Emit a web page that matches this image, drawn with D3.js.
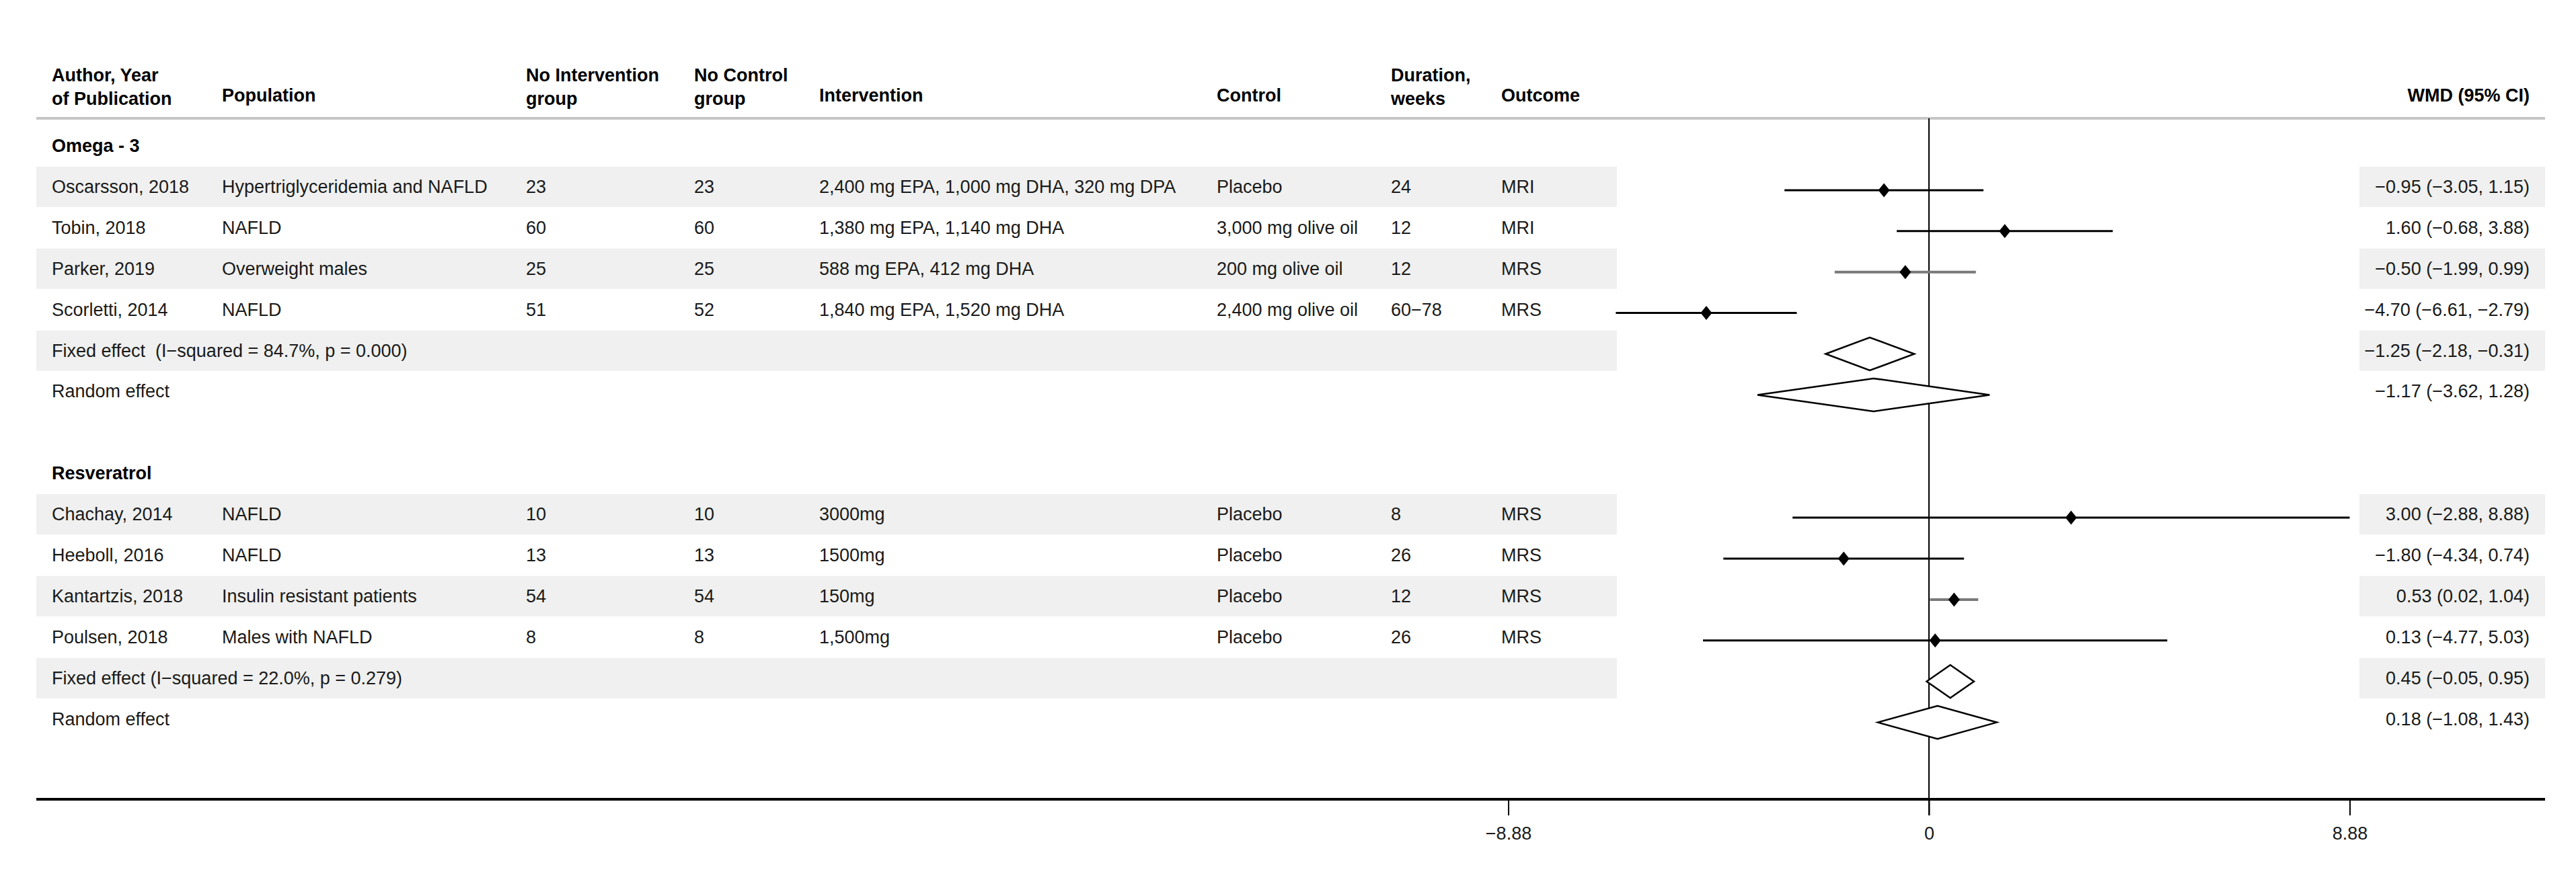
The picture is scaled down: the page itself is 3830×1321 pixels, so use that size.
<!DOCTYPE html>
<html>
<head>
<meta charset="utf-8">
<script src="https://cdn.jsdelivr.net/npm/d3@7"></script>
<style>
  html, body { margin: 0; padding: 0; background: #fff; }
  svg { display: block; font-family: "Liberation Sans", Arial, sans-serif; }
  text { white-space: pre; }
</style>
</head>
<body>
<svg id="chart" width="3830" height="1321"></svg>
<script>
// data
const groups = ["Omega - 3", "Resveratrol"];
const studies = ["Oscarsson, 2018", "Tobin, 2018", "Parker, 2019", "Scorletti, 2014",
                 "Chachay, 2014", "Heeboll, 2016", "Kantartzis, 2018", "Poulsen, 2018"];
const studyGroup = [0, 0, 0, 0, 1, 1, 1, 1];
const populations = ["Hypertriglyceridemia and NAFLD", "NAFLD", "Overweight males", "NAFLD",
                     "NAFLD", "NAFLD", "Insulin resistant patients", "Males with NAFLD"];
const nIntervention = [23, 60, 25, 51, 10, 13, 54, 8];
const nControl = [23, 60, 25, 52, 10, 13, 54, 8];
const interventions = ["2,400 mg EPA, 1,000 mg DHA, 320 mg DPA", "1,380 mg EPA, 1,140 mg DHA",
                       "588 mg EPA, 412 mg DHA", "1,840 mg EPA, 1,520 mg DHA",
                       "3000mg", "1500mg", "150mg", "1,500mg"];
const controls = ["Placebo", "3,000 mg olive oil", "200 mg olive oil", "2,400 mg olive oil",
                  "Placebo", "Placebo", "Placebo", "Placebo"];
const durations = ["24", "12", "12", "60\u221278", "8", "26", "12", "26"];
const outcomes = ["MRI", "MRI", "MRS", "MRS", "MRS", "MRS", "MRS", "MRS"];
const wmd = [-0.95, 1.60, -0.50, -4.70, 3.00, -1.80, 0.53, 0.13];
const ciLow = [-3.05, -0.68, -1.99, -6.61, -2.88, -4.34, 0.02, -4.77];
const ciHigh = [1.15, 3.88, 0.99, -2.79, 8.88, 0.74, 1.04, 5.03];

// pooled estimates, per group: fixed then random
const pooledLabels = [["Fixed effect  (I\u2212squared = 84.7%, p = 0.000)", "Random effect"],
                      ["Fixed effect (I\u2212squared = 22.0%, p = 0.279)", "Random effect"]];
const pooledEst = [[-1.25, -1.17], [0.45, 0.18]];
const pooledLow = [[-2.18, -3.62], [-0.05, -1.08]];
const pooledHigh = [[-0.31, 1.28], [0.95, 1.43]];

const tickValues = [-8.88, 0, 8.88];

const headers = [
  {x: 77, lines: ["Author, Year", "of Publication"]},
  {x: 330, lines: ["Population"]},
  {x: 782, lines: ["No Intervention", "group"]},
  {x: 1032, lines: ["No Control", "group"]},
  {x: 1218, lines: ["Intervention"]},
  {x: 1809, lines: ["Control"]},
  {x: 2068, lines: ["Duration,", "weeks"]},
  {x: 2232, lines: ["Outcome"]}
];

// build the row list
const rows = [];
groups.forEach(function (g, gi) {
  rows.push({type: "group", label: g});
  studyGroup.forEach(function (sg, i) {
    if (sg !== gi) return;
    rows.push({type: "study", cells: [studies[i], populations[i], nIntervention[i], nControl[i],
               interventions[i], controls[i], durations[i], outcomes[i]],
               est: wmd[i], lo: ciLow[i], hi: ciHigh[i]});
  });
  pooledLabels[gi].forEach(function (lab, k) {
    rows.push({type: "pooled", label: lab, est: pooledEst[gi][k], lo: pooledLow[gi][k], hi: pooledHigh[gi][k]});
  });
  if (gi < groups.length - 1) rows.push({type: "blank"});
});

const fmt = function (v) { return d3.format(".2f")(v).replace("-", "\u2212"); };
const ciText = function (r) { return fmt(r.est) + " (" + fmt(r.lo) + ", " + fmt(r.hi) + ")"; };

const svg = d3.select("#chart");
const fontSize = 27;
const left = 54, right = 3784;

const x = d3.scaleLinear().domain([-8.88, 8.88]).range([2242.5, 3493.5]);
const y = d3.scaleLinear().domain([0, rows.length - 1]).range([222, 222 + (rows.length - 1) * 60.9]);

// zebra bands (alternate inside each group)
let shade = [];
let k = 0;
rows.forEach(function (r, i) {
  if (r.type === "group" || r.type === "blank") { k = 0; return; }
  if (k % 2 === 0) shade.push(i);
  k++;
});
const bands = svg.append("g");
shade.forEach(function (i) {
  bands.append("rect").attr("x", left).attr("y", y(i) - 35).attr("width", 2404 - left).attr("height", 60).attr("fill", "#eff0ef");
  bands.append("rect").attr("x", 3508).attr("y", y(i) - 35).attr("width", right - 3508).attr("height", 60).attr("fill", "#eff0ef");
});

// header
const hd = svg.append("g").attr("font-size", fontSize).attr("font-weight", "bold").attr("fill", "#000");
headers.forEach(function (h) {
  if (h.lines.length === 2) {
    hd.append("text").attr("x", h.x).attr("y", 121).text(h.lines[0]);
    hd.append("text").attr("x", h.x).attr("y", 156).text(h.lines[1]);
  } else {
    hd.append("text").attr("x", h.x).attr("y", 151).text(h.lines[0]);
  }
});
hd.append("text").attr("x", 3761).attr("y", 151).attr("text-anchor", "end").text("WMD (95% CI)");

svg.append("line").attr("x1", left).attr("x2", right).attr("y1", 176).attr("y2", 176)
  .attr("stroke", "#c6c6c6").attr("stroke-width", 4);

// table text
const colX = headers.map(function (h) { return h.x; });
const body = svg.append("g").attr("font-size", fontSize).attr("fill", "#1a1a1a");
rows.forEach(function (r, i) {
  const ty = y(i) + 4;
  if (r.type === "group") {
    body.append("text").attr("x", colX[0]).attr("y", ty).attr("font-weight", "bold").attr("fill", "#000").text(r.label);
  } else if (r.type === "study") {
    r.cells.forEach(function (c, ci) {
      body.append("text").attr("x", colX[ci]).attr("y", ty).text(c);
    });
    body.append("text").attr("x", 3761).attr("y", ty).attr("text-anchor", "end").text(ciText(r));
  } else if (r.type === "pooled") {
    body.append("text").attr("x", colX[0]).attr("y", ty).text(r.label);
    body.append("text").attr("x", 3761).attr("y", ty).attr("text-anchor", "end").text(ciText(r));
  }
});

// zero line
svg.append("line").attr("x1", x(0)).attr("x2", x(0)).attr("y1", 176).attr("y2", 1213)
  .attr("stroke", "#000").attr("stroke-width", 2);

// study CIs and markers
const plot = svg.append("g");
rows.forEach(function (r, i) {
  const cy = y(i);
  if (r.type === "study") {
    const narrow = (r.hi - r.lo) < 3;
    plot.append("line").attr("x1", x(r.lo)).attr("x2", x(r.hi)).attr("y1", cy).attr("y2", cy)
      .attr("stroke", narrow ? "#7a7a7a" : "#000").attr("stroke-width", narrow ? 4 : 3);
    const px = x(r.est);
    plot.append("path")
      .attr("d", "M" + px + "," + (cy - 10.5) + "L" + (px + 8.5) + "," + cy + "L" + px + "," + (cy + 10.5) + "L" + (px - 8.5) + "," + cy + "Z")
      .attr("fill", "#000");
  } else if (r.type === "pooled") {
    plot.append("path")
      .attr("d", "M" + x(r.lo) + "," + cy + "L" + x(r.est) + "," + (cy - 24.5) + "L" + x(r.hi) + "," + cy + "L" + x(r.est) + "," + (cy + 24.5) + "Z")
      .attr("fill", "#fff").attr("stroke", "#000").attr("stroke-width", 2.5);
  }
});

// x axis
svg.append("line").attr("x1", left).attr("x2", right).attr("y1", 1189).attr("y2", 1189)
  .attr("stroke", "#000").attr("stroke-width", 4);
const axis = svg.append("g").attr("transform", "translate(0,1189)")
  .call(d3.axisBottom(x).tickValues(tickValues).tickSize(24).tickPadding(17)
    .tickFormat(function (d) { return d === 0 ? "0" : fmt(d); }));
axis.select(".domain").remove();
axis.selectAll(".tick line").attr("stroke", "#000").attr("stroke-width", 2);
axis.selectAll(".tick text").attr("font-size", fontSize).attr("font-family", "Liberation Sans, Arial, sans-serif").attr("fill", "#1a1a1a");
</script>
</body>
</html>
